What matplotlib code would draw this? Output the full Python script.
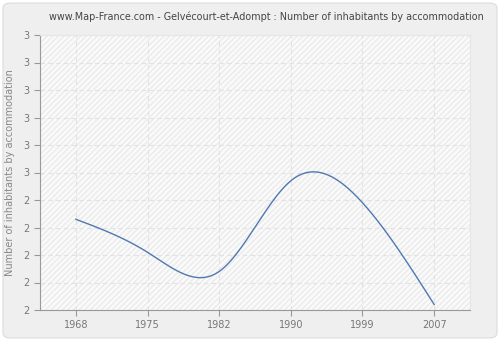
import numpy as np
import matplotlib
matplotlib.use("Agg")
import matplotlib.pyplot as plt
from matplotlib.patches import FancyBboxPatch, Rectangle

years = ["1968", "1975", "1982", "1990", "1999", "2007"]
values = [2.33, 2.21, 2.14, 2.47, 2.39, 2.02]
ytick_vals = [2.0, 2.1, 2.2, 2.3, 2.4, 2.5, 2.6, 2.7, 2.8, 2.9, 3.0]
ytick_labels = ["2", "2", "2", "2", "2", "3", "3", "3", "3", "3", "3"]


def natural_spline(x, y, xs):
    x = np.asarray(x, float)
    y = np.asarray(y, float)
    n = len(x)
    h = np.diff(x)
    A = np.zeros((n, n))
    b = np.zeros(n)
    A[0, 0] = 1
    A[-1, -1] = 1
    for i in range(1, n - 1):
        A[i, i - 1] = h[i - 1]
        A[i, i] = 2 * (h[i - 1] + h[i])
        A[i, i + 1] = h[i]
        b[i] = 3 * ((y[i + 1] - y[i]) / h[i] - (y[i] - y[i - 1]) / h[i - 1])
    c = np.linalg.solve(A, b)
    out = np.empty_like(xs)
    for k, t in enumerate(xs):
        i = min(max(np.searchsorted(x, t) - 1, 0), n - 2)
        dx = t - x[i]
        bi = (y[i + 1] - y[i]) / h[i] - h[i] * (2 * c[i] + c[i + 1]) / 3
        di = (c[i + 1] - c[i]) / (3 * h[i])
        out[k] = y[i] + bi * dx + c[i] * dx ** 2 + di * dx ** 3
    return out


fig = plt.figure(figsize=(5, 3.4), dpi=100)
fig.patch.set_facecolor("white")
bg = FancyBboxPatch((0.006, 0.006), 0.988, 0.985, boxstyle="round,pad=0,rounding_size=0.015",
                    transform=fig.transFigure, facecolor="#efefef", edgecolor="#dcdcdc",
                    linewidth=0.8, zorder=-10)
fig.patches.append(bg)

ax = fig.add_axes([40 / 500, 1 - 310 / 340, 430 / 500, 275 / 340])
ax.set_facecolor("#fafafa")
ax.add_patch(Rectangle((0, 0), 1, 1, transform=ax.transAxes, facecolor="none",
                       edgecolor="#ebebeb", hatch="//////", linewidth=0, zorder=0))

xpos = np.arange(len(years))
xs = np.linspace(0, len(years) - 1, 400)
ax.plot(xs, natural_spline(xpos, values, xs), color="#4f79b0", linewidth=1.0, zorder=3)

ax.set_xlim(-0.5, len(years) - 0.5)
ax.set_ylim(2.0, 3.0)
ax.set_xticks(xpos)
ax.set_xticklabels(years)
ax.set_yticks(ytick_vals)
ax.set_yticklabels(ytick_labels)
ax.grid(True, color="#e2e2e2", linestyle=(0, (4, 3)), linewidth=0.8)
ax.set_axisbelow(True)
for s in ["top", "right"]:
    ax.spines[s].set_color("#e6e6e6")
for s in ["left", "bottom"]:
    ax.spines[s].set_color("#999999")
ax.tick_params(axis="both", colors="#999999", labelcolor="#777777", labelsize=7, length=4, width=0.8)
ax.set_ylabel("Number of inhabitants by accommodation", fontsize=7, color="#888888", labelpad=6)
fig.text(266.5 / 500, 1 - 17 / 340, "www.Map-France.com - Gelvécourt-et-Adompt : Number of inhabitants by accommodation",
         ha="center", va="center", fontsize=6.95, color="#444444")

fig.savefig("out.png", dpi=100, facecolor=fig.get_facecolor())
